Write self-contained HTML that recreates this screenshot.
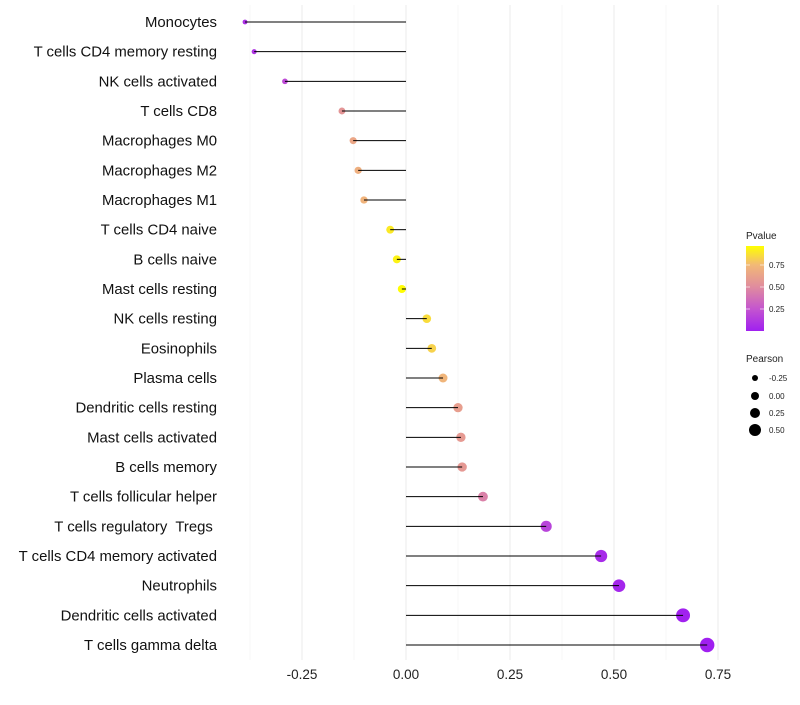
<!DOCTYPE html>
<html><head><meta charset="utf-8"><style>
body{margin:0;background:#fff;font-family:"Liberation Sans",sans-serif;}
</style></head><body>
<svg id="chart" width="800" height="700" xmlns="http://www.w3.org/2000/svg">
<defs><linearGradient id="pg" x1="0" y1="1" x2="0" y2="0">
<stop offset="0" stop-color="#A020F0"/><stop offset="0.26" stop-color="#C455CF"/><stop offset="0.52" stop-color="#E08C9E"/><stop offset="0.78" stop-color="#F2B976"/><stop offset="1" stop-color="#FFFF00"/>
</linearGradient></defs>
<g id="grid"></g><g id="dots"></g><g id="marks"></g><g id="labels"></g>
<g font-size="9" fill="#222">
<text x="746" y="239" font-size="10">Pvalue</text>
<rect x="746" y="246" width="18" height="85" fill="url(#pg)"/>
<line x1="746" y1="265" x2="750" y2="265" stroke="#fff" stroke-opacity="0.6"/><line x1="760" y1="265" x2="764" y2="265" stroke="#fff" stroke-opacity="0.6"/>
<line x1="746" y1="287" x2="750" y2="287" stroke="#fff" stroke-opacity="0.6"/><line x1="760" y1="287" x2="764" y2="287" stroke="#fff" stroke-opacity="0.6"/>
<line x1="746" y1="309" x2="750" y2="309" stroke="#fff" stroke-opacity="0.6"/><line x1="760" y1="309" x2="764" y2="309" stroke="#fff" stroke-opacity="0.6"/>
<text x="769" y="268" font-size="8">0.75</text><text x="769" y="290" font-size="8">0.50</text><text x="769" y="312" font-size="8">0.25</text>
</g>
<g fill="#000">
<text x="746" y="362" font-size="10" fill="#222">Pearson</text>
<circle cx="755" cy="378" r="3"/><circle cx="755" cy="396" r="4"/><circle cx="755" cy="413" r="5"/><circle cx="755" cy="430" r="6"/>
<text x="769" y="381" font-size="8" fill="#222">-0.25</text><text x="769" y="399" font-size="8" fill="#222">0.00</text><text x="769" y="416" font-size="8" fill="#222">0.25</text><text x="769" y="433" font-size="8" fill="#222">0.50</text>
</g>
</svg>
<script>
const categories=["Monocytes","T cells CD4 memory resting","NK cells activated","T cells CD8","Macrophages M0","Macrophages M2","Macrophages M1","T cells CD4 naive","B cells naive","Mast cells resting","NK cells resting","Eosinophils","Plasma cells","Dendritic cells resting","Mast cells activated","B cells memory","T cells follicular helper","T cells regulatory  Tregs ","T cells CD4 memory activated","Neutrophils","Dendritic cells activated","T cells gamma delta"];
const pearson=[-0.387,-0.365,-0.291,-0.154,-0.127,-0.115,-0.101,-0.038,-0.022,-0.010,0.050,0.062,0.089,0.125,0.132,0.135,0.185,0.337,0.469,0.512,0.666,0.724];
const pvalue=[0.08,0.10,0.20,0.55,0.65,0.70,0.72,0.90,0.93,0.96,0.86,0.83,0.73,0.60,0.58,0.57,0.45,0.17,0.05,0.03,0.005,0.001];
const xTicks=[-0.25,0,0.25,0.5,0.75];
const xTickLabels=["-0.25","0.00","0.25","0.50","0.75"];
const NS="http://www.w3.org/2000/svg";
const x=v=>406+v*416;
const y=i=>22+i*(645-22)/(categories.length-1);
const stops=[[0,[160,32,240]],[0.26,[196,85,207]],[0.52,[224,140,158]],[0.78,[242,185,118]],[1,[255,255,0]]];
function col(p){const t=Math.max(0,Math.min(1,p/0.966));for(let k=1;k<stops.length;k++){if(t<=stops[k][0]){const a=stops[k-1],b=stops[k],f=(t-a[0])/(b[0]-a[0]);return "rgb("+a[1].map((c,j)=>Math.round(c+(b[1][j]-c)*f)).join(",")+")";}}return "rgb(255,255,0)";}
const rad=p=>Math.max(1.6,4.1+p*4.3);
function mk(tag,at,parent){const e=document.createElementNS(NS,tag);for(const k in at)e.setAttribute(k,at[k]);document.getElementById(parent).appendChild(e);return e;}
xTicks.forEach((t,i)=>{
 const m=mk("line",{x1:x(t-0.125),x2:x(t-0.125),y1:5,y2:660,stroke:"#f4f4f4","stroke-width":0.7},"grid");
 
 
 const g=mk("line",{x1:x(t),x2:x(t),y1:5,y2:660,stroke:"#ebebeb","stroke-width":1},"grid");
 
 
 const tx=mk("text",{x:x(t),y:679,"text-anchor":"middle","font-size":13.5,fill:"#222"},"labels");
 tx.textContent=xTickLabels[i];
 
 
});
categories.forEach((c,i)=>{
 const d=mk("circle",{cx:x(pearson[i]),cy:y(i),r:rad(pearson[i]),fill:col(pvalue[i])},"dots");
 
 
 const l=mk("line",{x1:x(0),x2:x(pearson[i]),y1:y(i),y2:y(i),stroke:"#000","stroke-width":1},"marks");
 
 
 const t=mk("text",{x:217,y:y(i)+5,"text-anchor":"end","font-size":14.9,fill:"#111","xml:space":"preserve"},"labels");
 t.setAttribute("style","white-space:pre");
 t.textContent=c;
 
 
});
</script>
</body></html>
